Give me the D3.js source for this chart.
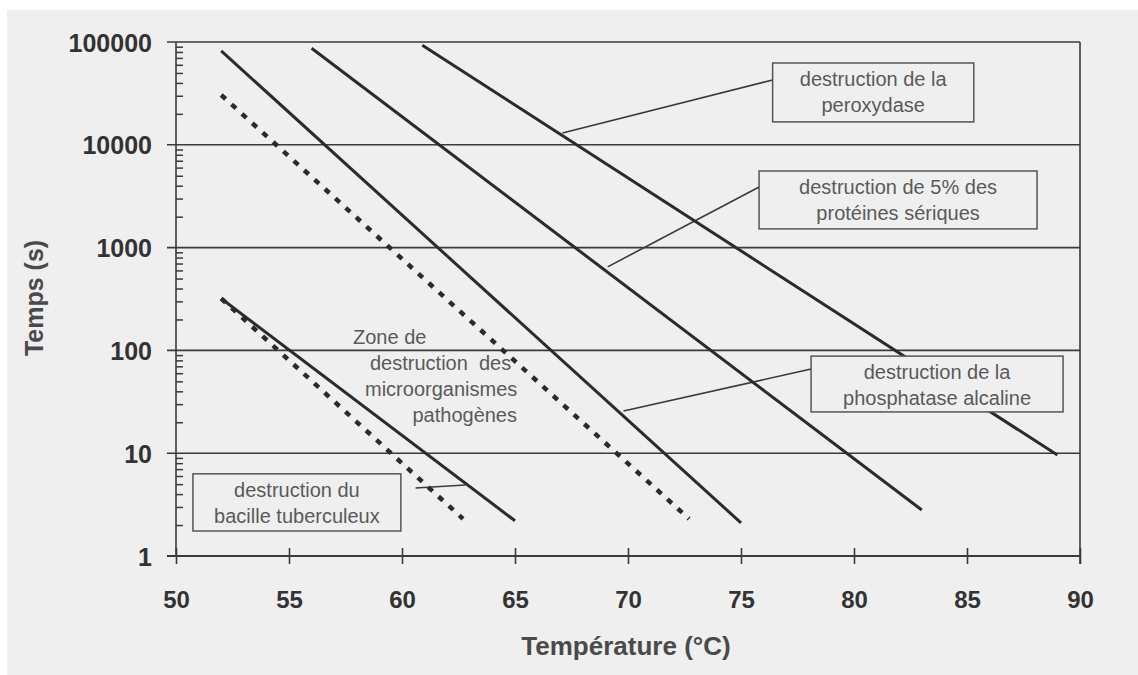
<!DOCTYPE html>
<html>
<head>
<meta charset="utf-8">
<script src="https://cdn.jsdelivr.net/npm/d3@7"></script>
<style>
  body { margin: 0; background: #fff; }
  svg { display: block; }
  text { font-family: "Liberation Sans", Arial, sans-serif; }
</style>
</head>
<body>
<svg width="1138" height="675"></svg>
<script>
// temperature ticks (°C) and time ticks (s)
const tempTicks = [50, 55, 60, 65, 70, 75, 80, 85, 90];
const timeTicks = [1, 10, 100, 1000, 10000, 100000];

// destruction lines : [temp, time] start and end
const solidLines = [
  [[52.0, 320], [65.0, 2.2]],
  [[52.0, 82000], [75.0, 2.1]],
  [[56.0, 87000], [83.0, 2.8]],
  [[60.9, 93000], [89.0, 9.6]]
];
const dashedLines = [
  [[52.0, 320], [62.7, 2.3]],
  [[52.0, 30500], [72.7, 2.3]]
];

// labelled boxes : temp range, time range, text lines
const boxes = [
  { t0: 76.4, t1: 85.3, s0: 62500, s1: 16700, lines: ["destruction de la", "peroxydase"] },
  { t0: 75.8, t1: 88.1, s0: 5560, s1: 1520, lines: ["destruction de 5% des", "protéines sériques"] },
  { t0: 78.1, t1: 89.25, s0: 88, s1: 25.2, lines: ["destruction de la", "phosphatase alcaline"] },
  { t0: 50.75, t1: 59.95, s0: 6.3, s1: 1.75, lines: ["destruction du", "bacille tuberculeux"] }
];

// thin leader lines from a curve to its box
const leaders = [
  [[67.1, 13000], [76.4, 42700]],
  [[69.1, 650], [75.8, 3880]],
  [[69.8, 25.7], [78.1, 65.9]],
  [[60.6, 4.58], [62.8, 4.91]]
];

const zoneLines = ["Zone de", "destruction  des", "microorganismes", "pathogènes"];

const svg = d3.select("svg");

// paper of the scan
svg.append("rect")
  .attr("x", 7).attr("y", 10)
  .attr("width", 1131).attr("height", 665)
  .attr("fill", "#efefef");

const x = d3.scaleLinear().domain([50, 90]).range([176, 1080]);
const y = d3.scaleLog().domain([1, 100000]).range([556, 42]);

const ink = "#3a3a3a";

// horizontal lines at each decade
svg.append("g").selectAll("line")
  .data(timeTicks)
  .enter().append("line")
    .attr("x1", x(50) - 9)
    .attr("x2", x(90))
    .attr("y1", d => y(d))
    .attr("y2", d => y(d))
    .attr("stroke", ink)
    .attr("stroke-width", 1.6);

// frame : left axis and right border
svg.append("line")
  .attr("x1", x(50)).attr("x2", x(50))
  .attr("y1", y(100000)).attr("y2", y(1))
  .attr("stroke", ink).attr("stroke-width", 1.6);
svg.append("line")
  .attr("x1", x(90)).attr("x2", x(90))
  .attr("y1", y(100000)).attr("y2", y(1) + 8)
  .attr("stroke", ink).attr("stroke-width", 1.6);

// y axis labels
const yAxis = d3.axisLeft(y)
  .tickValues(timeTicks)
  .tickSize(9)
  .tickPadding(15)
  .tickFormat(d3.format("d"));

const gy = svg.append("g")
  .attr("transform", `translate(${x(50)},0)`)
  .call(yAxis);
gy.select(".domain").remove();
gy.selectAll("line").remove();
gy.selectAll("text")
  .attr("font-size", 25)
  .attr("font-weight", "bold")
  .attr("font-family", "Liberation Sans, Arial, sans-serif")
  .attr("fill", "#333")
  .attr("dy", "0.36em");

// minor log ticks, inside the axis
const minor = y.ticks().filter(d => timeTicks.indexOf(d) < 0);
const gm = svg.append("g")
  .attr("transform", `translate(${x(50)},0)`)
  .call(d3.axisRight(y).tickValues(minor).tickSize(7).tickFormat(""));
gm.select(".domain").remove();
gm.selectAll("line").attr("stroke", ink).attr("stroke-width", 1.5);

// x axis
const xAxis = d3.axisBottom(x)
  .tickValues(tempTicks)
  .tickSize(8)
  .tickFormat(d3.format("d"));

const gx = svg.append("g")
  .attr("transform", `translate(0,${y(1)})`)
  .call(xAxis);
gx.select(".domain").remove();
gx.selectAll("line")
  .attr("y1", -8).attr("y2", 8)
  .attr("stroke", ink).attr("stroke-width", 1.6);
gx.selectAll("text")
  .attr("y", 52).attr("dy", 0)
  .attr("font-size", 24)
  .attr("font-weight", "bold")
  .attr("font-family", "Liberation Sans, Arial, sans-serif")
  .attr("fill", "#333");

svg.append("line")
  .attr("x1", x(50) - 9).attr("x2", x(90))
  .attr("y1", y(1)).attr("y2", y(1))
  .attr("stroke", ink).attr("stroke-width", 1.8);

// axis titles
svg.append("text")
  .attr("transform", "translate(43,298) rotate(-90)")
  .attr("text-anchor", "middle")
  .attr("font-size", 25)
  .attr("font-weight", "bold")
  .attr("fill", "#4a4a4a")
  .text("Temps (s)");

svg.append("text")
  .attr("x", 626).attr("y", 655)
  .attr("text-anchor", "middle")
  .attr("font-size", 26)
  .attr("font-weight", "bold")
  .attr("fill", "#4a4a4a")
  .text("Température (°C)");

const line = d3.line().x(d => x(d[0])).y(d => y(d[1]));

// leader lines
svg.append("g").selectAll("path")
  .data(leaders)
  .enter().append("path")
    .attr("d", line)
    .attr("fill", "none")
    .attr("stroke", ink)
    .attr("stroke-width", 1.6);

// destruction lines
svg.append("g").selectAll("path")
  .data(solidLines)
  .enter().append("path")
    .attr("d", line)
    .attr("fill", "none")
    .attr("stroke", "#2b2b2b")
    .attr("stroke-width", 3);

svg.append("g").selectAll("path")
  .data(dashedLines)
  .enter().append("path")
    .attr("d", line)
    .attr("fill", "none")
    .attr("stroke", "#2b2b2b")
    .attr("stroke-width", 4.5)
    .attr("stroke-dasharray", "6,8");

// boxes with their texts
const gb = svg.append("g").selectAll("g")
  .data(boxes)
  .enter().append("g");

gb.append("rect")
  .attr("x", d => x(d.t0))
  .attr("y", d => y(d.s0))
  .attr("width", d => x(d.t1) - x(d.t0))
  .attr("height", d => y(d.s1) - y(d.s0))
  .attr("fill", "#efefef")
  .attr("stroke", "#555")
  .attr("stroke-width", 1.5);

gb.each(function(d) {
  const cx = (x(d.t0) + x(d.t1)) / 2;
  const top = y(d.s0);
  d3.select(this).selectAll("text")
    .data(d.lines)
    .enter().append("text")
      .attr("x", cx)
      .attr("y", (l, i) => top + 23 + i * 26)
      .attr("text-anchor", "middle")
      .attr("font-size", 20)
      .attr("fill", "#5a5a5a")
      .text(l => l);
});

// zone label (no box)
const zoneX = [[353, "start"], [370, "start"], [365, "start"], [517, "end"]];
svg.append("g").selectAll("text")
  .data(zoneLines)
  .enter().append("text")
    .attr("x", (d, i) => zoneX[i][0])
    .attr("y", (d, i) => 344 + i * 26)
    .attr("text-anchor", (d, i) => zoneX[i][1])
    .attr("font-size", 20)
    .attr("fill", "#5a5a5a")
    .attr("xml:space", "preserve")
    .text(d => d);
</script>
</body>
</html>
